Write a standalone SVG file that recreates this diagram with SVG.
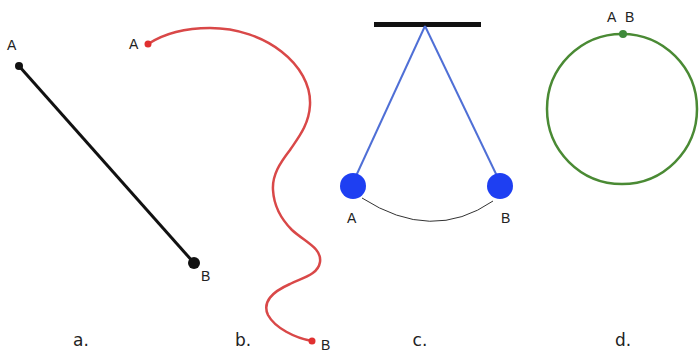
<svg xmlns="http://www.w3.org/2000/svg" width="699" height="353" viewBox="0 0 699 353">
<style>
  .lbl { font-family: "Liberation Sans", Arial, sans-serif; font-size: 14px; fill: #222; }
  .cap { font-family: "DejaVu Sans", "Liberation Sans", sans-serif; font-size: 17px; fill: #222; text-anchor: middle; }
</style>
<rect width="699" height="353" fill="#ffffff"/>
<g id="panel-a">
  <line x1="19" y1="66" x2="194" y2="263" stroke="#111" stroke-width="3"/>
  <circle cx="19" cy="66" r="4" fill="#111"/>
  <circle cx="194" cy="263" r="6" fill="#111"/>
  <text class="lbl" x="7" y="50">A</text>
  <text class="lbl" x="201" y="281">B</text>
</g>
<g id="panel-b">
  <path d="M148,44 C165,33 185,28 210,28 C265,28 312,65 310,105 C309,125 298,138 290,150 C280,163 272,175 273,190 C274,208 282,220 292,230 C305,242 322,248 320,262 C318,275 302,278 290,284 C272,292 262,302 268,315 C275,328 295,338 312,341" fill="none" stroke="#d94848" stroke-width="2.5"/>
  <circle cx="148" cy="44" r="3.5" fill="#e03030"/>
  <circle cx="312" cy="341" r="3.5" fill="#e03030"/>
  <text class="lbl" x="129" y="49">A</text>
  <text class="lbl" x="321" y="350">B</text>
</g>
<g id="panel-c">
  <line x1="374" y1="24.5" x2="481" y2="24.5" stroke="#111" stroke-width="5"/>
  <line x1="425" y1="26" x2="356" y2="176" stroke="#4f6fd6" stroke-width="2"/>
  <line x1="425" y1="26" x2="497" y2="176" stroke="#4f6fd6" stroke-width="2"/>
  <path d="M362,198 Q432,243 493,201" fill="none" stroke="#333" stroke-width="1"/>
  <circle cx="353" cy="186" r="13" fill="#1e3ff2"/>
  <circle cx="500" cy="186" r="13" fill="#1e3ff2"/>
  <text class="lbl" x="347" y="223">A</text>
  <text class="lbl" x="501" y="223">B</text>
</g>
<g id="panel-d">
  <circle cx="622" cy="109" r="75" fill="none" stroke="#4a8a34" stroke-width="2.5"/>
  <circle cx="623" cy="34" r="4" fill="#3f8a3a"/>
  <text class="lbl" x="607" y="22">A</text>
  <text class="lbl" x="625" y="22">B</text>
</g>
<g id="captions">
  <text class="cap" x="81" y="346">a.</text>
  <text class="cap" x="243" y="346">b.</text>
  <text class="cap" x="420" y="346">c.</text>
  <text class="cap" x="623" y="346">d.</text>
</g>
</svg>
